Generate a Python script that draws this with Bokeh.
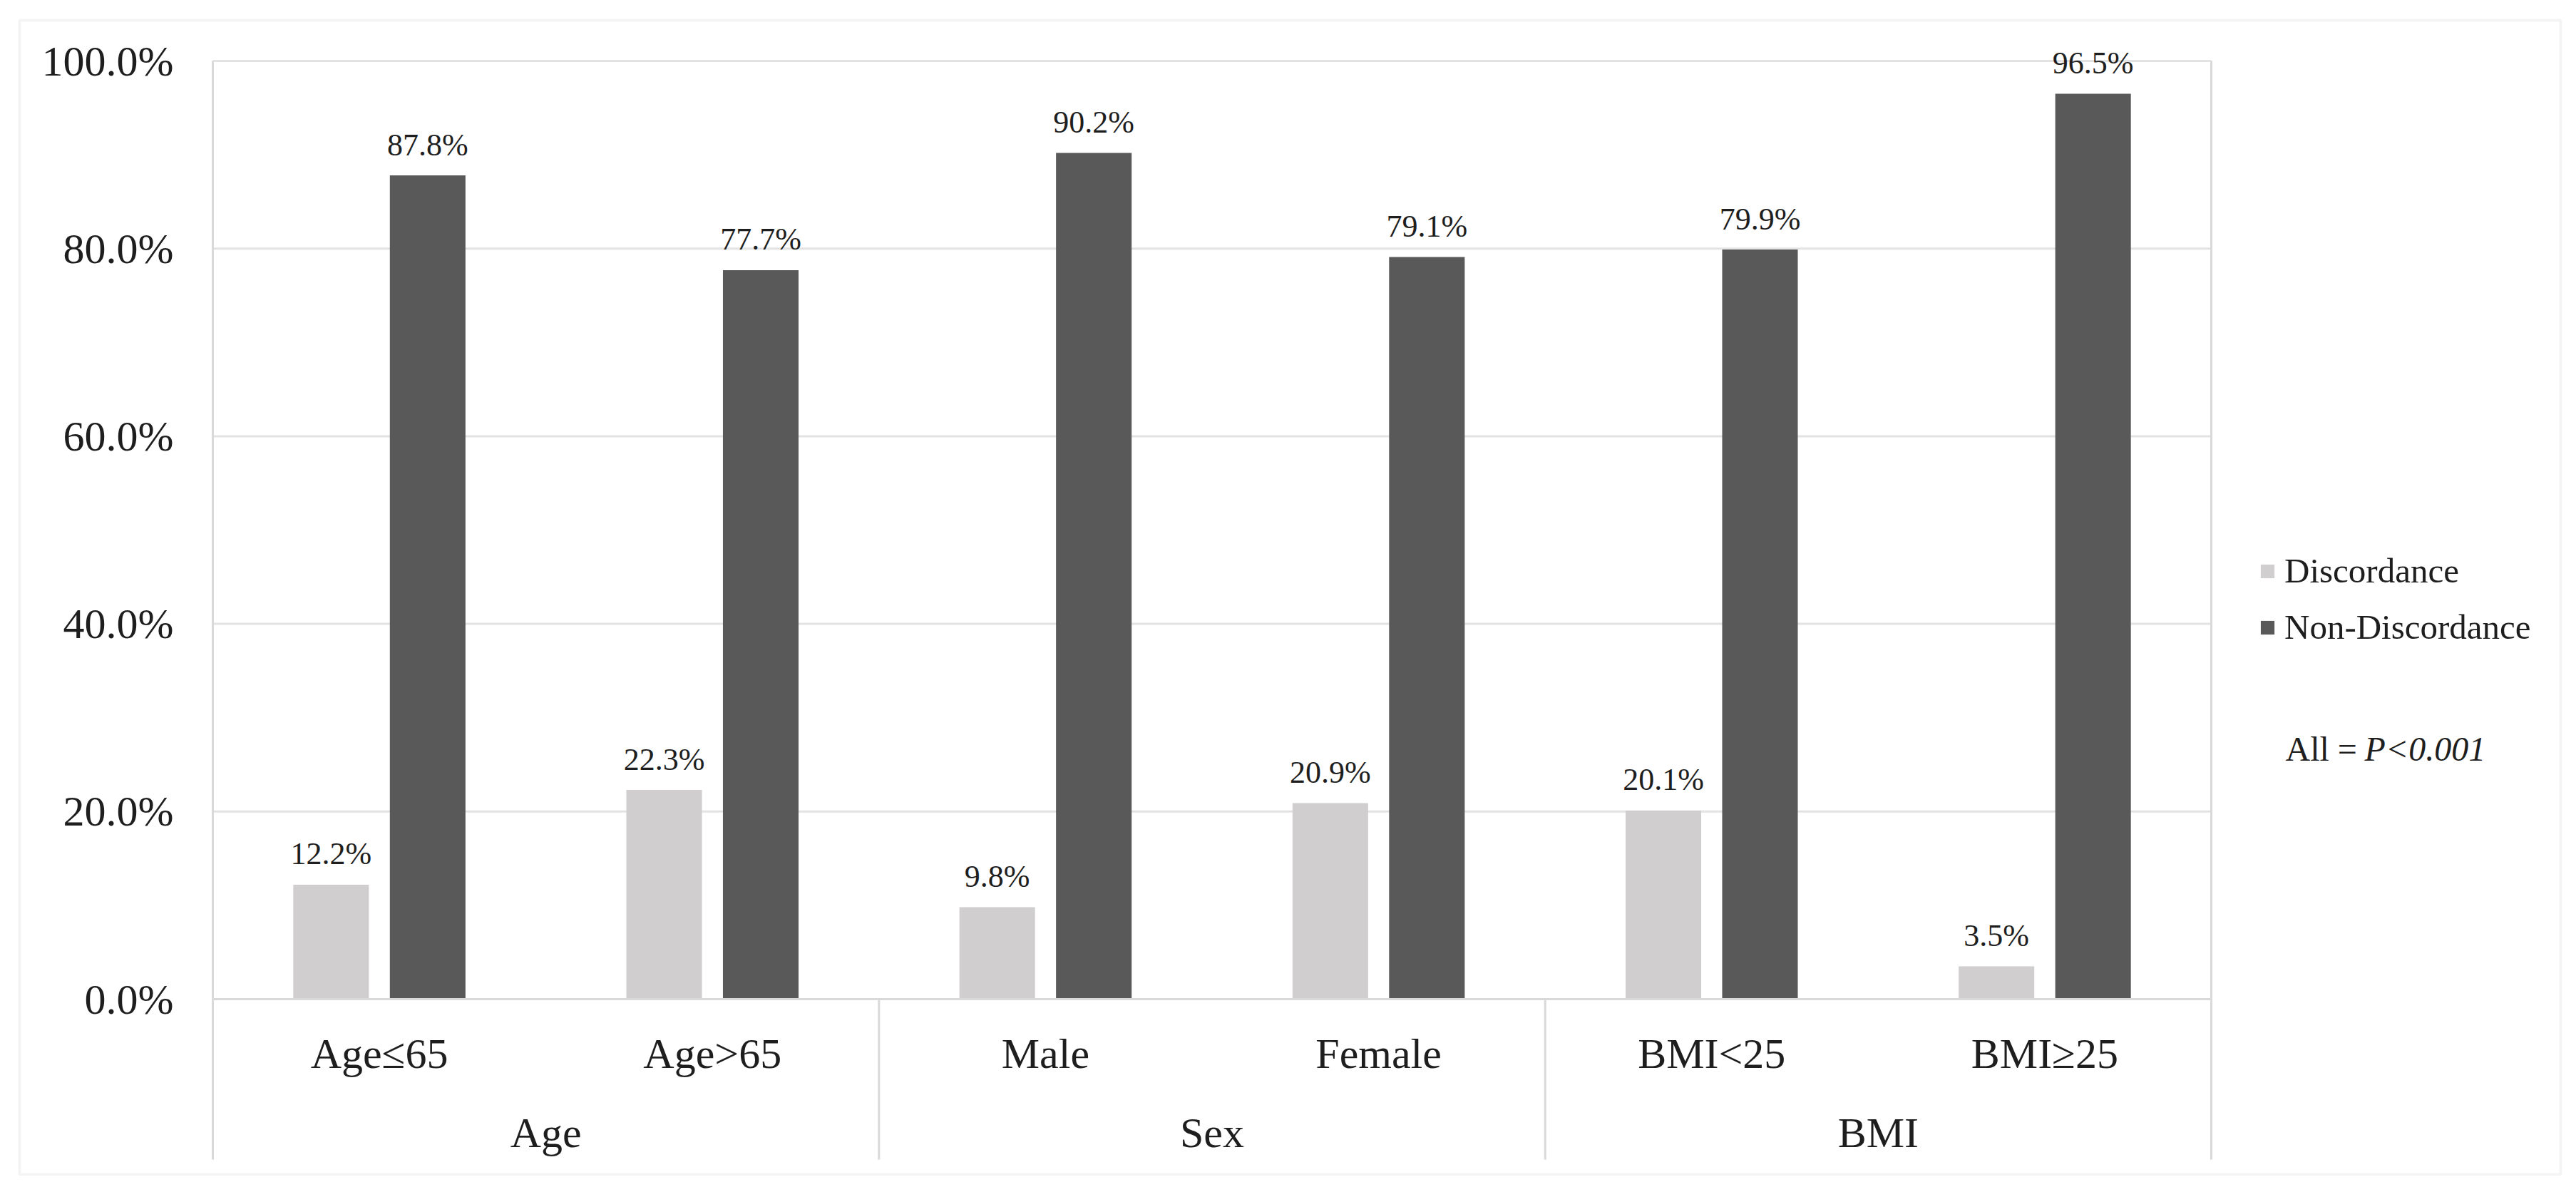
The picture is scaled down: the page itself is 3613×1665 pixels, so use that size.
from bokeh.plotting import figure
from bokeh.models import (ColumnDataSource, Range1d, FixedTicker, LinearAxis,
                          Legend, LegendItem, Label, BoxAnnotation)
from bokeh.core.properties import value
from bokeh.embed import file_html
from bokeh.resources import INLINE

# ---------------- data ----------------
groups = ["Age", "Age", "Sex", "Sex", "BMI", "BMI"]
subs = ["Age≤65", "Age>65", "Male", "Female", "BMI<25", "BMI≥25"]
discordance = [12.2, 22.3, 9.8, 20.9, 20.1, 3.5]
non_discordance = [87.8, 77.7, 90.2, 79.1, 79.9, 96.5]
series_names = ["Discordance", "Non-Discordance"]
y_ticks = [0, 20, 40, 60, 80, 100]
y_tick_labels = ["0.0%", "20.0%", "40.0%", "60.0%", "80.0%", "100.0%"]
note_prefix = "All = "
note_p = "P<0.001"

# ---------------- style / layout ----------------
FONT = "Liberation Serif"
LIGHT = "#D0CECE"
DARK = "#595959"
AXIS = "#D9D9D9"
GRIDC = "#E3E3E3"
TXT = "#1E1E1E"
W, H = 3597, 1649
PLOT_L, PLOT_R = 298, 3101        # pixel edges of the category area
PLOT_T, PLOT_B = 85, 1401         # pixel positions of 100% and 0%
SEP_B = 1626                      # bottom of separator lines
OFF = 0.145
BAR_W = 0.227

n_cat = len(subs)
px_x = (PLOT_R - PLOT_L) / n_cat
px_y = (PLOT_B - PLOT_T) / y_ticks[-1]
x_start, x_end = -PLOT_L / px_x, (W - PLOT_L) / px_x
y_end = y_ticks[-1] + PLOT_T / px_y
y_start = -(H - PLOT_B) / px_y
sep_bottom = -(SEP_B - PLOT_B) / px_y

centers = [i + 0.5 for i in range(n_cat)]
grp_names, grp_centers, grp_edges = [], [], []
for i, g in enumerate(groups):
    if not grp_names or grp_names[-1] != g:
        grp_names.append(g)
        grp_centers.append([centers[i]])
    else:
        grp_centers[-1].append(centers[i])
    if i == n_cat - 1 or groups[i + 1] != g:
        grp_edges.append(i + 1)
grp_centers = [sum(c) / len(c) for c in grp_centers]

src = ColumnDataSource(dict(
    xd=[c - OFF for c in centers], xn=[c + OFF for c in centers],
    d=discordance, n=non_discordance,
    dl=[f"{v:.1f}%" for v in discordance],
    nl=[f"{v:.1f}%" for v in non_discordance],
))

p = figure(width=W, height=H, title=None,
           x_range=Range1d(x_start, x_end), y_range=Range1d(y_start, y_end),
           x_axis_type=None, y_axis_type=None,
           min_border=0, min_border_left=0, min_border_right=0,
           min_border_top=0, min_border_bottom=0,
           output_backend="svg", toolbar_location=None)
p.outline_line_color = None
p.xgrid.visible = False
p.ygrid.visible = False
p.background_fill_color = "white"
p.border_fill_color = "white"

# horizontal gridlines
gsrc = ColumnDataSource(dict(y=y_ticks, x0=[0] * len(y_ticks), x1=[n_cat] * len(y_ticks)))
p.segment(x0="x0", x1="x1", y0="y", y1="y", source=gsrc, line_color=GRIDC, line_width=3)

# separators (group boundaries and right edge)
sep_top = [y_ticks[-1] if e == n_cat else y_ticks[0] for e in grp_edges]
sep_src = ColumnDataSource(dict(x=grp_edges, y0=sep_top, y1=[sep_bottom] * len(grp_edges)))
p.segment(x0="x", x1="x", y0="y0", y1="y1", source=sep_src, line_color=AXIS, line_width=3)

r1 = p.vbar(x="xd", top="d", width=BAR_W, source=src, fill_color=LIGHT, line_color=None)
r2 = p.vbar(x="xn", top="n", width=BAR_W, source=src, fill_color=DARK, line_color=None)

for xc, col, lab in (("xd", "d", "dl"), ("xn", "n", "nl")):
    p.text(x=xc, y=col, text=lab, source=src,
           text_font=value(FONT), text_font_size="44px", text_align="center",
           text_baseline="middle", y_offset=-43, text_color=TXT)

# y axis at the left edge of the category area
ya = LinearAxis(ticker=FixedTicker(ticks=y_ticks), fixed_location=0,
                bounds=(sep_bottom, y_ticks[-1]))
ya.major_label_overrides = {t: l for t, l in zip(y_ticks, y_tick_labels)}
ya.axis_line_color = AXIS
ya.axis_line_width = 3
ya.major_tick_line_color = None
ya.minor_tick_line_color = None
ya.major_tick_out = 0
ya.major_tick_in = 0
ya.major_label_standoff = 55
ya.major_label_text_font = FONT
ya.major_label_text_font_size = "60px"
ya.major_label_text_color = TXT
p.add_layout(ya, "left")

# category axis (sub labels) at y = 0
xa = LinearAxis(ticker=FixedTicker(ticks=centers), fixed_location=0, bounds=(0, n_cat))
xa.major_label_overrides = {c: s for c, s in zip(centers, subs)}
xa.axis_line_color = AXIS
xa.axis_line_width = 3
xa.major_tick_line_color = None
xa.minor_tick_line_color = None
xa.major_tick_out = 0
xa.major_tick_in = 0
xa.major_label_standoff = 43
xa.major_label_text_font = FONT
xa.major_label_text_font_size = "60px"
xa.major_label_text_color = TXT
p.add_layout(xa, "below")

# group axis (group labels)
ga = LinearAxis(ticker=FixedTicker(ticks=grp_centers), fixed_location=0, bounds=(0, n_cat))
ga.major_label_overrides = {c: s for c, s in zip(grp_centers, grp_names)}
ga.axis_line_color = None
ga.major_tick_line_color = None
ga.minor_tick_line_color = None
ga.major_tick_out = 0
ga.major_tick_in = 0
ga.major_label_standoff = 154
ga.major_label_text_font = FONT
ga.major_label_text_font_size = "60px"
ga.major_label_text_color = TXT
p.add_layout(ga, "below")

legend = Legend(items=[LegendItem(label=series_names[0], renderers=[r1]),
                       LegendItem(label=series_names[1], renderers=[r2])],
                location=(3168, H - 908), glyph_width=24, glyph_height=24,
                label_standoff=12, label_height=24, spacing=22, padding=0, margin=0,
                border_line_color=None, background_fill_alpha=0,
                label_text_font=FONT, label_text_font_size="49px", label_text_color=TXT)
p.add_layout(legend, "center")

p.add_layout(Label(x=3205, y=H - 1050, x_units="screen", y_units="screen", text=note_prefix,
                   text_font=FONT, text_font_size="48px", text_color=TXT,
                   text_baseline="middle"))
p.add_layout(Label(x=3316, y=H - 1050, x_units="screen", y_units="screen", text=note_p,
                   text_font=FONT, text_font_size="48px", text_color=TXT,
                   text_font_style="italic", text_baseline="middle"))

# outer light border of the chart
p.add_layout(BoxAnnotation(left=27, right=3591, top=H - 28, bottom=H - 1647,
                           left_units="screen", right_units="screen",
                           top_units="screen", bottom_units="screen",
                           fill_alpha=0, line_color="#D9D9D9", line_width=4))

open("out.html", "w").write(file_html(p, INLINE))
